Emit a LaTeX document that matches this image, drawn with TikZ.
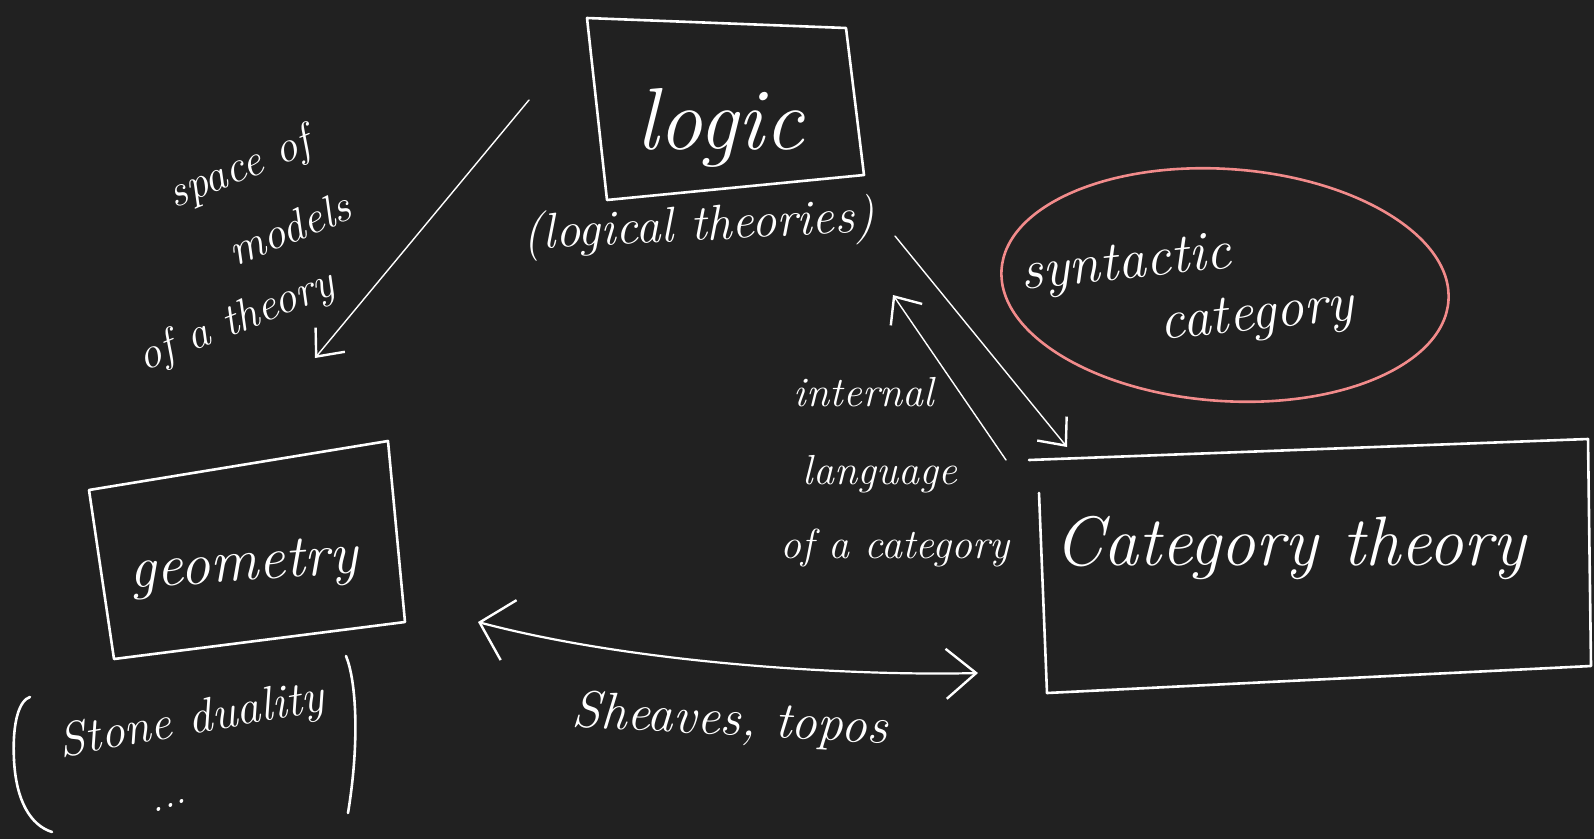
\documentclass[tikz,border=0pt]{standalone}
\usepackage{fontspec}
\usetikzlibrary{arrows.meta}
\definecolor{bg}{HTML}{212121}
\definecolor{pinkc}{HTML}{F28B8B}
\begin{document}
\begin{tikzpicture}[x=1pt,y=-1pt,
  chalk/.style={white, line width=2.6pt, line cap=round, line join=round},
  thinline/.style={white, line width=1.4pt, line cap=round},
  barb/.style={-{Straight Barb[length=22pt,width=38pt,line width=2.4pt]}},
  bigbarb/.style={{Straight Barb[length=30pt,width=62pt,line width=2.4pt]}-{Straight Barb[length=30pt,width=50pt,line width=2.4pt]}},
  hand/.style={white, inner sep=0pt, font=\itshape\fontsize{#1}{#1}\selectfont},
]
\fill[bg] (0,0) rectangle (1594,839);
\useasboundingbox (0,0) rectangle (1594,839);

% logic box
\draw[chalk] (587,18) -- (846,28) -- (864,175) -- (607,200) -- cycle;
\node[hand=88] (logic) at (720,128) {logic};
\node[hand=50, rotate=3] (logth) at (699,228) {(logical theories)};

% geometry box
\draw[chalk] (89,490) -- (388,441) -- (405,622) -- (114,659) -- cycle;
\node[hand=60, rotate=4] (geo) at (244,568) {geometry};
\draw[chalk] (14,760) .. controls (12,720) and (20,700) .. (30,697);
\draw[chalk] (14,760) .. controls (16,800) and (30,825) .. (52,832);
\draw[chalk] (346,656) .. controls (356,680) and (360,740) .. (348,813);
\node[hand=48, rotate=10] (stone) at (192,722) {Stone duality};
\node[hand=40, rotate=20] (dots) at (170,806) {...};

% category theory box
\draw[chalk] (1029,460) -- (1588,439) -- (1591,666) -- (1047,693);
\draw[chalk] (1039,493) -- (1047,693);
\node[hand=70] (cat) at (1290,548) {Category theory};

% syntactic category
\draw[pinkc, line width=2.6pt, rotate around={-4:(1225,285)}] (1225,285) ellipse [x radius=224pt, y radius=116pt];
\node[hand=56, rotate=6] (syn) at (1126,266) {syntactic};
\node[hand=56, rotate=6] (synb) at (1257,318) {category};

% labels
\node[hand=45, rotate=22] (sp1) at (240,170) {space of};
\node[hand=45, rotate=22] (sp2) at (289,228) {models};
\node[hand=45, rotate=22] (sp3) at (237,322) {of a theory};

\node[hand=42] (il1) at (864,392) {internal};
\node[hand=42] (il2) at (880,474) {language};
\node[hand=42] (il3) at (895,548) {of a category};

\node[hand=52, rotate=-3] (sh) at (730,722) {Sheaves, topos};

% connector end points
\coordinate (lgA) at (529,100);
\coordinate (lgB) at (315,358);
\coordinate (lcA) at (895,236);
\coordinate (lcB) at (1067,447);
\coordinate (clA) at (1006,460);
\coordinate (clB) at (893,295);
\coordinate (shA) at (478,622);
\coordinate (shB) at (978,673);

\draw[thinline, barb] (lgA) -- (lgB);
\draw[thinline, barb] (lcA) -- (lcB);
\draw[thinline, barb] (clA) -- (clB);
\draw[chalk, line width=2.2pt, bigbarb] (shA) .. controls (640,665) and (860,676) .. (shB);
\end{tikzpicture}
\end{document}
